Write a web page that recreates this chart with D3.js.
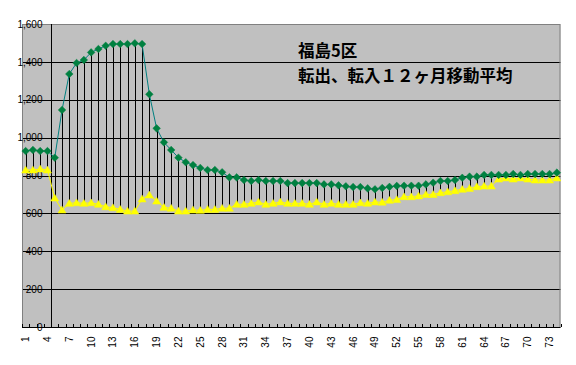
<!DOCTYPE html>
<html><head><meta charset="utf-8">
<script src="https://cdn.jsdelivr.net/npm/d3@7"></script>
<style>html,body{margin:0;padding:0;background:#fff;}svg{display:block;}</style>
</head><body>
<svg id="c" width="576" height="365"></svg>
<script>
const categories = d3.range(1, 75);
const outflow = [929,935,929,929,894,1146,1336,1394,1410,1450,1468,1485,1494,1494,1494,1498,1494,1229,1049,975,
  935,894,870,855,840,829,829,817,790,790,776,771,776,771,771,771,760,760,760,760,
  760,753,753,748,743,739,739,732,727,734,740,745,746,746,746,753,762,771,771,776,
  788,794,794,803,803,803,803,808,803,808,808,808,808,815];
const inflow = [829,829,834,829,681,618,653,656,653,656,648,635,630,621,612,612,676,697,665,632,
  627,612,612,618,616,621,621,627,627,648,648,653,660,648,653,660,653,653,653,648,
  660,648,653,648,648,648,656,653,660,659,669,673,688,688,692,700,700,709,714,720,
  727,732,741,744,744,781,787,781,787,781,776,776,776,787];
const yTicks = [0,200,400,600,800,1000,1200,1400,1600];
const xTickLabels = categories.filter(d => (d - 1) % 3 === 0);
const titleLines = ["福島5区", "転出、転入１２ヶ月移動平均"];

const svg = d3.select("#c");
const L = 22, R = 560.5, T = 24, B = 327;
const x = d3.scaleBand().domain(categories).range([L, R]).padding(0);
const y = d3.scaleLinear().domain([0, 1600]).range([B, T]);

// plot area
svg.append("rect").attr("x", L).attr("y", T).attr("width", R - L).attr("height", B - T)
  .attr("fill", "#c0c0c0");

// gridlines
svg.append("g").selectAll("line").data(yTicks.filter(d => d > 0 && d < 1600)).join("line")
  .attr("x1", L).attr("x2", R).attr("y1", d => Math.round(y(d)) + 0.5).attr("y2", d => Math.round(y(d)) + 0.5)
  .attr("stroke", "#000").attr("stroke-width", 1);

// border
svg.append("rect").attr("x", L + 0.5).attr("y", T + 0.5).attr("width", R - L - 1).attr("height", B - T)
  .attr("fill", "none").attr("stroke", "#808080").attr("stroke-width", 1);

// y axis (crosses between categories 4 and 5)
const yAxisX = Math.round(x(5)) + 0.5;
const yAxis = svg.append("g").attr("transform", `translate(${yAxisX},0)`)
  .call(d3.axisLeft(y).tickValues(yTicks).tickFormat(d3.format(",")).tickSize(0).tickPadding(9));
yAxis.select(".domain").remove();
yAxis.selectAll("text").attr("font-family", "Liberation Sans, Arial, sans-serif").attr("font-size", 10).attr("fill", "#000");
svg.append("line").attr("x1", yAxisX).attr("x2", yAxisX).attr("y1", T).attr("y2", B)
  .attr("stroke", "#000").attr("stroke-width", 1);

// x axis
const xAxis = svg.append("g").attr("transform", `translate(0,${B + 0.5})`)
  .call(d3.axisBottom(x).tickValues(xTickLabels).tickSize(0));
xAxis.select(".domain").attr("stroke", "#000").attr("d", `M${L},0H${R}`);
xAxis.selectAll("text")
  .attr("font-family", "Liberation Sans, Arial, sans-serif").attr("font-size", 10).attr("fill", "#000")
  .attr("transform", "rotate(-90)").attr("y", 0).attr("x", -9).attr("dy", "0.35em")
  .attr("text-anchor", "end");
// category boundary ticks (inside)
svg.append("g").selectAll("line").data(categories.concat([75])).join("line")
  .attr("x1", d => Math.round(d <= 74 ? x(d) : R) + 0.5)
  .attr("x2", d => Math.round(d <= 74 ? x(d) : R) + 0.5)
  .attr("y1", B - 3).attr("y2", B)
  .attr("stroke", "#000");

const cx = d => x(d) + x.bandwidth() / 2;

// high-low lines
svg.append("g").selectAll("line").data(categories).join("line")
  .attr("x1", (d) => Math.round(cx(d)) + 0.5).attr("x2", (d) => Math.round(cx(d)) + 0.5)
  .attr("y1", (d, i) => y(outflow[i])).attr("y2", (d, i) => y(inflow[i]))
  .attr("stroke", "#000").attr("stroke-width", 1);

// lines
const line = arr => d3.line().x((d, i) => cx(categories[i])).y(d => y(d))(arr);
svg.append("path").attr("d", line(inflow)).attr("fill", "none").attr("stroke", "#ffff00").attr("stroke-width", 1);
svg.append("path").attr("d", line(outflow)).attr("fill", "none").attr("stroke", "#008080").attr("stroke-width", 1);

// markers
svg.append("g").selectAll("path").data(inflow).join("path")
  .attr("transform", (d, i) => `translate(${cx(categories[i])},${y(d)})`)
  .attr("d", "M0,-3.8L4,3L-4,3Z").attr("fill", "#ffff00").attr("stroke", "#ffff00").attr("stroke-width", 0.5);
svg.append("g").selectAll("path").data(outflow).join("path")
  .attr("transform", (d, i) => `translate(${cx(categories[i])},${y(d)})`)
  .attr("d", "M0,-3.8L3.8,0L0,3.8L-3.8,0Z").attr("fill", "#008040").attr("stroke", "#008040").attr("stroke-width", 0.5);

// title
svg.append("g").selectAll("text").data(titleLines).join("text")
  .attr("x", 298).attr("y", (d, i) => 57 + i * 25)
  .attr("font-family", "Noto Sans CJK JP, sans-serif").attr("font-weight", "bold")
  .attr("font-size", 16.5).attr("fill", "#000").text(d => d);
</script>
</body></html>
